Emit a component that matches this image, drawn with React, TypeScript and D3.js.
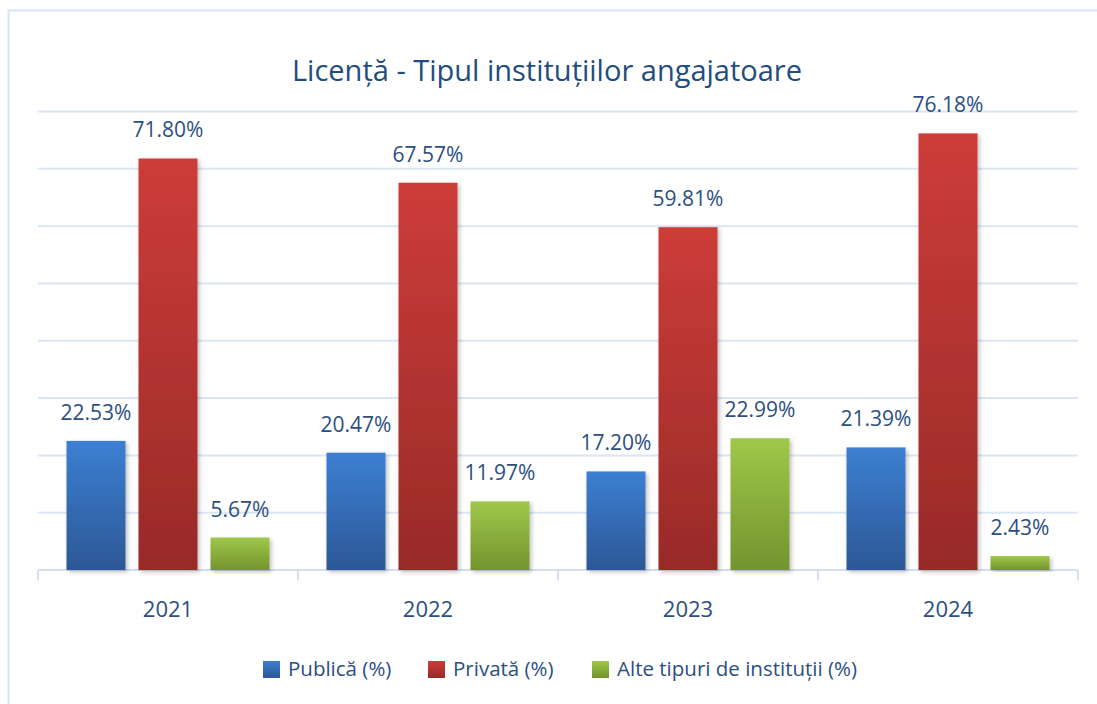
import React from 'react';
import * as d3 from 'd3';

const years = ['2021', '2022', '2023', '2024'];
const seriesNames = ['Publică (%)', 'Privată (%)', 'Alte tipuri de instituții (%)'];
const publica = [22.53, 20.47, 17.2, 21.39];
const privata = [71.8, 67.57, 59.81, 76.18];
const alte = [5.67, 11.97, 22.99, 2.43];
const yTicks = [10, 20, 30, 40, 50, 60, 70, 80];

const gradients = [
  { id: 'gBlue', top: '#3c7fd2', bottom: '#2c5896' },
  { id: 'gRed', top: '#cd3c39', bottom: '#982a28' },
  { id: 'gGreen', top: '#9fc84a', bottom: '#74932e' },
];

const textColor = '#2b4f80';
const gridColor = '#dbe6f4';
const font = "'Open Sans', 'Noto Sans', sans-serif";

export default function App() {
  const width = 1097;
  const height = 704;
  const values = [publica, privata, alte];

  const x0 = d3.scaleBand().domain(years).range([38, 1078]).padding(0);
  const x1 = d3
    .scaleBand()
    .domain(seriesNames)
    .range([0, x0.bandwidth()])
    .paddingInner(13 / 72)
    .paddingOuter(0.3958);
  const y = d3.scaleLinear().domain([0, 80]).range([570, 111.5]);

  const fmt = (v: number) => v.toFixed(2) + '%';
  const boundaries = [...years.map((yr) => x0(yr) as number), 1078];

  // legend positions (square x, text x)
  const legend = [
    { sq: 263, tx: 288 },
    { sq: 428, tx: 453 },
    { sq: 592, tx: 617 },
  ];

  return (
    <svg
      width={width}
      height={height}
      style={{ position: 'absolute', left: 0, top: 0, background: '#fff' }}
      fontFamily={font}
    >
      <defs>
        {gradients.map((g) => (
          <linearGradient key={g.id} id={g.id} x1="0" y1="0" x2="0" y2="1">
            <stop offset="0%" stopColor={g.top} />
            <stop offset="100%" stopColor={g.bottom} />
          </linearGradient>
        ))}
        <filter id="shadow" x="-20%" y="-5%" width="140%" height="115%">
          <feDropShadow dx="2" dy="2" stdDeviation="2" floodColor="#000" floodOpacity="0.25" />
        </filter>
      </defs>

      {/* frame */}
      <path d="M8.5,1100 L8.5,10.5 L1100,10.5" fill="none" stroke="#d8e4f4" strokeWidth={2} />

      <text x={547} y={81} textAnchor="middle" fontSize={29} fill="#1f4d7f">
        Licență - Tipul instituțiilor angajatoare
      </text>

      {/* gridlines */}
      {yTicks.map((t) => (
        <line key={t} x1={38} x2={1078} y1={y(t)} y2={y(t)} stroke={gridColor} strokeWidth={2} />
      ))}

      {/* axis */}
      <line x1={38} x2={1078} y1={y(0)} y2={y(0)} stroke="#d4e0f1" strokeWidth={2} />
      {boundaries.map((bx, i) => (
        <line key={i} x1={bx} x2={bx} y1={y(0)} y2={y(0) + 10} stroke="#d4e0f1" strokeWidth={2} />
      ))}

      {/* bars */}
      {years.map((yr, i) => (
        <g key={yr} transform={`translate(${x0(yr)},0)`}>
          {seriesNames.map((s, j) => {
            const v = values[j][i];
            return (
              <rect
                key={s}
                x={x1(s)}
                y={y(v)}
                width={x1.bandwidth()}
                height={y(0) - y(v)}
                fill={`url(#${gradients[j].id})`}
                filter="url(#shadow)"
              />
            );
          })}
          {seriesNames.map((s, j) => {
            const v = values[j][i];
            return (
              <text
                key={s + 'l'}
                x={(x1(s) as number) + x1.bandwidth() / 2}
                y={y(v) - 21}
                textAnchor="middle"
                fontSize={21}
                fill={textColor}
              >
                {fmt(v)}
              </text>
            );
          })}
          <text
            x={x0.bandwidth() / 2}
            y={617}
            textAnchor="middle"
            fontSize={22}
            fill={textColor}
          >
            {yr}
          </text>
        </g>
      ))}

      {/* legend */}
      {seriesNames.map((s, j) => (
        <g key={s}>
          <rect x={legend[j].sq} y={661} width={17} height={17} fill={`url(#${gradients[j].id})`} />
          <text x={legend[j].tx} y={676} fontSize={20.5} fill={textColor}>
            {s}
          </text>
        </g>
      ))}
    </svg>
  );
}
